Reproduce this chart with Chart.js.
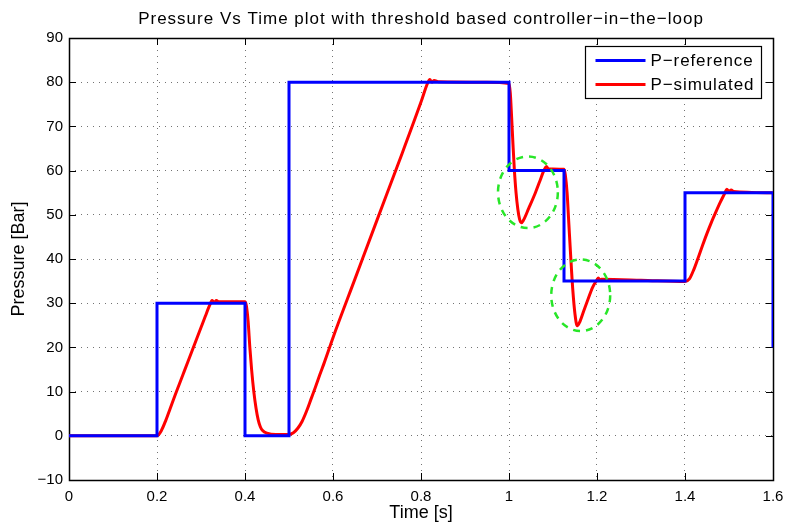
<!DOCTYPE html>
<html>
<head>
<meta charset="utf-8">
<script src="https://cdn.jsdelivr.net/npm/chart.js@4/dist/chart.umd.min.js"></script>
<style>
  html, body { margin: 0; padding: 0; background: #fff; }
  canvas { display: block; }
</style>
</head>
<body>
<canvas id="pressureChart" width="785" height="526"></canvas>
<script>
// Reference pressure (step set-points)
const refTime = [0, 0.2, 0.2, 0.4, 0.4, 0.5, 0.5, 1.0, 1.0, 1.125, 1.125, 1.4, 1.4, 1.6, 1.6];
const refPressure = [0, 0, 30, 30, 0, 0, 80, 80, 60, 60, 35, 35, 55, 55, 20];

// Simulated pressure (controller-in-the-loop)
const simTime = [0, 0.2, 0.21, 0.22, 0.23, 0.24, 0.25, 0.26, 0.27, 0.28, 0.29, 0.30, 0.31, 0.32, 0.325, 0.33, 0.335, 0.34, 0.40,
  0.403, 0.407, 0.411, 0.415, 0.42, 0.425, 0.43, 0.435, 0.44, 0.45, 0.47, 0.50,
  0.51, 0.52, 0.53, 0.54, 0.55, 0.56, 0.57, 0.58, 0.60, 0.65, 0.70, 0.75, 0.80, 0.815, 0.82, 0.825, 0.83, 0.84, 0.95, 1.0,
  1.003, 1.006, 1.009, 1.012, 1.016, 1.02, 1.024, 1.028, 1.033, 1.045, 1.06, 1.07, 1.08, 1.085, 1.09, 1.125,
  1.128, 1.132, 1.136, 1.14, 1.145, 1.15, 1.155, 1.16, 1.17, 1.18, 1.19, 1.2, 1.203, 1.207, 1.21, 1.3, 1.4,
  1.41, 1.42, 1.43, 1.44, 1.45, 1.46, 1.47, 1.48, 1.49, 1.495, 1.5, 1.505, 1.51, 1.6];
const simPressure = [0, 0, 1.2, 3.5, 6.2, 8.9, 11.5, 14.1, 16.7, 19.3, 21.9, 24.5, 27.1, 29.6, 30.6, 30.2, 30.6, 30.3, 30.3,
  29.5, 26, 20, 15, 10, 6.3, 3.6, 2, 1.2, 0.6, 0.3, 0.3,
  0.7, 1.7, 3.3, 5.6, 8.3, 11, 13.8, 16.5, 22.2, 35.5, 48.8, 62, 75.5, 79.8, 80.6, 80, 80.4, 80.1, 80, 79.7,
  77.5, 72, 66, 60.5, 55, 51.3, 49, 48.2, 48.8, 51.5, 55, 57.6, 60.2, 60.9, 60.4, 60.3,
  59, 55, 48, 41, 33, 27.5, 24.9, 25.6, 28.3, 31, 33.6, 35.3, 35.7, 35.2, 35.4, 35.2, 34.9,
  35.5, 37.6, 40.3, 43.1, 45.8, 48.3, 50.6, 52.8, 54.8, 55.8, 55.3, 55.6, 55.3, 55];

// Highlighted undershoots (centre and half-extent in data units)
const markTime = [1.043, 1.163];
const markPressure = [55.1, 31.8];
const markHalfTime = [0.068, 0.067];
const markHalfPressure = [8.1, 8.1];

const xTickLabels = ['0', '0.2', '0.4', '0.6', '0.8', '1', '1.2', '1.4', '1.6'];
const yTickLabels = ['\u221210', '0', '10', '20', '30', '40', '50', '60', '70', '80', '90'];
const seriesLabels = ['P\u2212reference', 'P\u2212simulated'];
const chartTitle = 'Pressure Vs Time plot with threshold based controller\u2212in\u2212the\u2212loop';

const FONT = '"Liberation Sans", Arial, Helvetica, sans-serif';
Chart.defaults.font.family = FONT;
Chart.defaults.color = '#000';

const toPoints = (xs, ys) => xs.map((x, i) => ({ x: x, y: ys[i] }));

// Box around the axes with inward ticks (MATLAB style)
const axesBox = {
    id: 'axesBox',
    beforeDatasetsDraw(chart) {
        const { ctx, chartArea: a, scales } = chart;
        const len = 7;
        ctx.save();
        ctx.strokeStyle = '#000';
        ctx.lineWidth = 1;
        ctx.beginPath();
        scales.x.ticks.forEach(t => {
            const px = Math.round(scales.x.getPixelForValue(t.value)) + 0.5;
            ctx.moveTo(px, a.bottom); ctx.lineTo(px, a.bottom - len);
            ctx.moveTo(px, a.top); ctx.lineTo(px, a.top + len);
        });
        scales.y.ticks.forEach(t => {
            const py = Math.round(scales.y.getPixelForValue(t.value)) + 0.5;
            ctx.moveTo(a.left, py); ctx.lineTo(a.left + len, py);
            ctx.moveTo(a.right, py); ctx.lineTo(a.right - len, py);
        });
        ctx.stroke();
        ctx.lineWidth = 1.5;
        ctx.strokeRect(Math.round(a.left) + 0.5, Math.round(a.top) + 0.5,
            Math.round(a.right - a.left), Math.round(a.bottom - a.top));
        ctx.restore();
    }
};

// Title above the axes
const plotTitle = {
    id: 'plotTitle',
    afterDraw(chart) {
        const { ctx, chartArea: a } = chart;
        ctx.save();
        ctx.font = '17px ' + FONT;
        ctx.letterSpacing = '1px';
        ctx.fillStyle = '#000';
        ctx.textAlign = 'center';
        ctx.textBaseline = 'alphabetic';
        ctx.fillText(chartTitle, (a.left + a.right) / 2, a.top - 14);
        ctx.restore();
    }
};

// Dashed green ellipses round the undershoots
const undershootMarks = {
    id: 'undershootMarks',
    afterDatasetsDraw(chart) {
        const { ctx, scales } = chart;
        ctx.save();
        ctx.strokeStyle = 'rgb(40, 230, 40)';
        ctx.lineWidth = 2.5;
        ctx.setLineDash([7, 6]);
        markTime.forEach((t, i) => {
            const cx = scales.x.getPixelForValue(t);
            const cy = scales.y.getPixelForValue(markPressure[i]);
            const rx = scales.x.getPixelForValue(t + markHalfTime[i]) - cx;
            const ry = cy - scales.y.getPixelForValue(markPressure[i] + markHalfPressure[i]);
            ctx.beginPath();
            ctx.ellipse(cx, cy, rx, ry, 0, 0, Math.PI * 2);
            ctx.stroke();
        });
        ctx.restore();
    }
};

// Legend inside the axes, top right
const boxLegend = {
    id: 'boxLegend',
    afterDraw(chart) {
        const { ctx, chartArea: a } = chart;
        ctx.save();
        ctx.font = '17px ' + FONT;
        ctx.letterSpacing = '0.9px';
        const textW = Math.max(...chart.data.datasets.map(d => ctx.measureText(d.label).width));
        const w = Math.round(10 + 50 + 5 + textW + 7);
        const h = 52;
        const x0 = Math.round(a.right - 12 - w) + 0.5;
        const y0 = Math.round(a.top + 8) + 0.5;
        ctx.fillStyle = '#fff';
        ctx.fillRect(x0, y0, w, h);
        ctx.strokeStyle = '#000';
        ctx.lineWidth = 1.2;
        ctx.strokeRect(x0, y0, w, h);
        chart.data.datasets.forEach((d, i) => {
            const y = y0 + 14 + i * 24;
            ctx.strokeStyle = d.borderColor;
            ctx.lineWidth = 3;
            ctx.beginPath();
            ctx.moveTo(x0 + 10, y);
            ctx.lineTo(x0 + 60, y);
            ctx.stroke();
            ctx.fillStyle = '#000';
            ctx.textBaseline = 'middle';
            ctx.fillText(d.label, x0 + 65, y + 1);
        });
        ctx.restore();
    }
};

new Chart(document.getElementById('pressureChart'), {
    type: 'line',
    data: {
        datasets: [{
            label: seriesLabels[0],
            data: toPoints(refTime, refPressure),
            borderColor: '#0000ff',
            borderWidth: 3,
            pointRadius: 0,
            tension: 0,
            fill: false
        }, {
            label: seriesLabels[1],
            data: toPoints(simTime, simPressure),
            borderColor: '#ff0000',
            borderWidth: 3,
            pointRadius: 0,
            cubicInterpolationMode: 'monotone',
            fill: false
        }]
    },
    options: {
        responsive: false,
        animation: false,
        devicePixelRatio: 1,
        layout: { padding: { left: 0, right: 12, top: 38, bottom: 0 } },
        plugins: {
            legend: { display: false },
            tooltip: { enabled: false },
            title: { display: false }
        },
        scales: {
            x: {
                type: 'linear',
                min: 0,
                max: 1.6,
                afterFit: s => { s.height = 46; s.paddingLeft = 0; s.paddingRight = 0; },
                ticks: {
                    stepSize: 0.2,
                    padding: 8,
                    font: { size: 15 },
                    maxRotation: 0,
                    callback: (v, i) => xTickLabels[i]
                },
                grid: { color: 'rgba(0,0,0,0.55)', lineWidth: 1, drawTicks: false, tickLength: 0 },
                border: { display: false, dash: [1, 5] },
                title: { display: true, text: 'Time [s]', font: { size: 18 }, padding: { top: 0, bottom: 2 } }
            },
            y: {
                type: 'linear',
                min: -10,
                max: 90,
                afterFit: s => { s.width = 69; s.paddingTop = 0; s.paddingBottom = 0; },
                ticks: {
                    stepSize: 10,
                    padding: 6,
                    font: { size: 15 },
                    callback: (v, i) => yTickLabels[i]
                },
                grid: { color: 'rgba(0,0,0,0.55)', lineWidth: 1, drawTicks: false, tickLength: 0 },
                border: { display: false, dash: [1, 5] },
                title: { display: true, text: 'Pressure [Bar]', font: { size: 18 }, padding: { top: 8, bottom: 0 } }
            }
        }
    },
    plugins: [axesBox, undershootMarks, plotTitle, boxLegend]
});
</script>
</body>
</html>
